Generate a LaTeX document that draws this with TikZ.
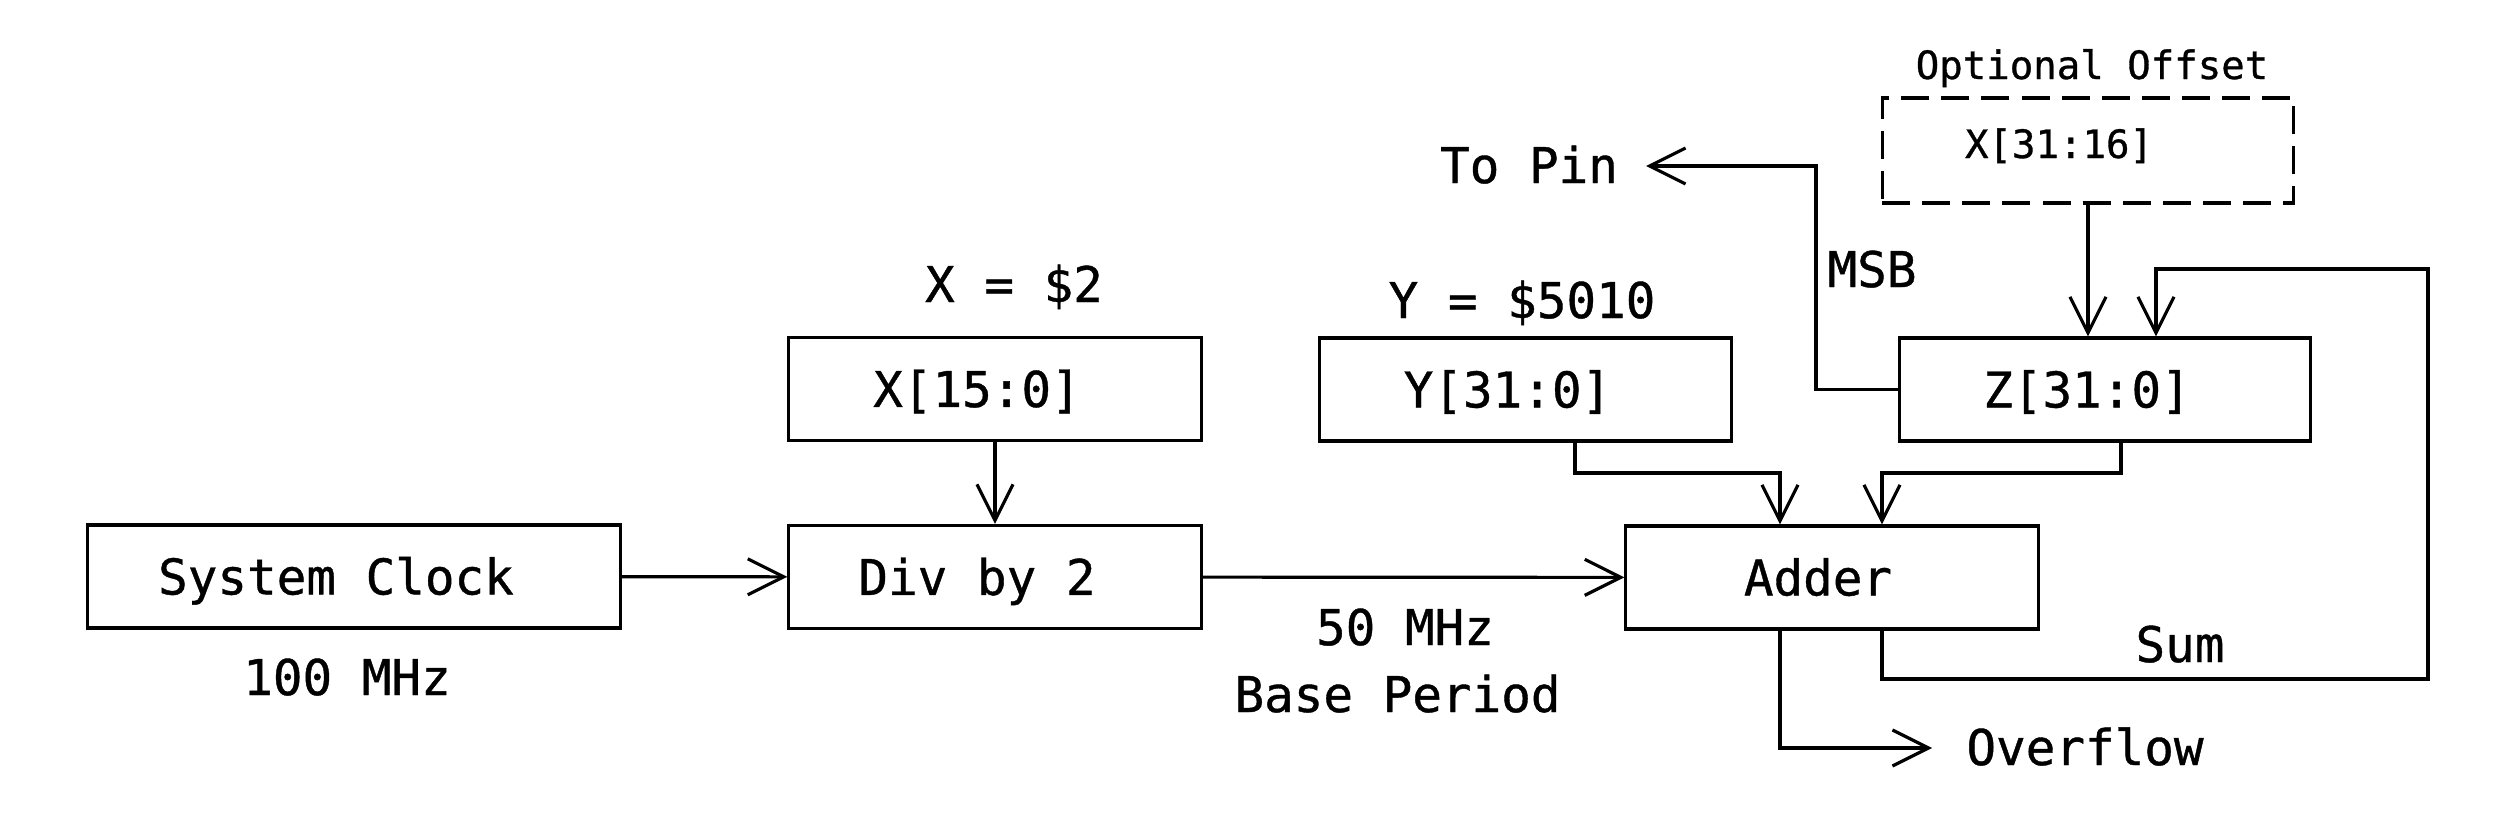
\documentclass[tikz,border=0pt]{standalone}
\usepackage{fontspec}
\setmonofont[FakeBold=0.8]{DejaVu Sans Mono}
\usetikzlibrary{arrows.meta,calc}
\begin{document}
\begin{tikzpicture}[x=0.01cm,y=-0.01cm,
  blk/.style={draw, line width=0.9pt, minimum height=1.03cm, inner sep=0pt,
    text height=10.2pt, text depth=0pt, font=\fontsize{14}{16}\selectfont\ttfamily},
  lbl/.style={anchor=base, inner sep=0pt, font=\fontsize{14}{16}\selectfont\ttfamily},
  smalllbl/.style={anchor=base, inner sep=0pt, font=\fontsize{11.1}{13}\selectfont\ttfamily},
  arr/.style={line width=0.9pt, -{Straight Barb[length=3.6mm,width=3.6mm]}},
  dashbox/.style={draw, line width=0.9pt, dash pattern=on 0.28cm off 0.12cm,
    minimum width=4.11cm, minimum height=1.05cm, inner sep=0pt}
]
\useasboundingbox (0,0) rectangle (2500,815);

% blocks
\node[blk, minimum width=5.32cm] (sysclk) at (354,576.5) {System Clock\kern0.36cm};
\node[blk, minimum width=4.12cm] (div) at (995,577) {Div by 2\kern0.36cm};
\node[blk, minimum width=4.12cm] (xreg) at (995,389) {X[15:0]\kern0.36cm};
\node[blk, minimum width=4.11cm] (yreg) at (1525.5,389.5) {Y[31:0]\kern0.36cm};
\node[blk, minimum width=4.10cm] (zreg) at (2105,389.5) {Z[31:0]\kern0.36cm};
\node[blk, minimum width=4.12cm] (adder) at (1832,577.5) {Adder\kern0.28cm};
\node[dashbox] (offset) at (2088,150.5) {};

% labels
\node[lbl] (lx) at (1014,302) {X = \$2};
\node[lbl] (l100) at (347,695) {100 MHz};
\node[lbl] (ly) at (1522,318) {Y = \$5010};
\node[lbl] (l50) at (1405,645) {50 MHz};
\node[lbl] (lbase) at (1397.5,712) {Base Period};
\node[lbl] (lsum) at (2180,662) {Sum};
\node[lbl] (lover) at (2085,765) {Overflow};
\node[lbl] (lpin) at (1529,183) {To Pin};
\node[lbl] (lmsb) at (1872,287) {MSB};
\node[smalllbl] (lopt) at (2092,79) {Optional Offset};
\node[smalllbl] (lx16) at (2059,158) {X[31:16]};

% bend points
\coordinate (y1) at (1575,473);
\coordinate (a1) at (1780,473);
\coordinate (z1) at (2121,473);
\coordinate (a2) at (1882,473);
\coordinate (m2) at (1816,166);
\coordinate (pinend) at (1646,166);
\coordinate (ov) at (1932,748);
\coordinate (s2) at (2428,679);
\coordinate (s4) at (2156,269);

% connectors
\draw[arr] (sysclk) -- (div);
\draw[arr] (xreg) -- (div);
\draw[arr] (div) -- (adder);
\draw[arr] (yreg.south -| y1) -- (y1) -- (a1) -- (adder.north -| a1);
\draw[arr] (zreg.south -| z1) -- (z1) -- (a2) -- (adder.north -| a2);
\draw[arr] (offset.south) -- (zreg.north -| offset.south);
\draw[arr] (zreg.west) -| (m2) -- (pinend);
\draw[arr] (adder.south -| a1) |- (ov);
\draw[arr] (adder.south -| a2) |- (s2) |- (s4) -- (zreg.north -| s4);
\end{tikzpicture}
\end{document}
